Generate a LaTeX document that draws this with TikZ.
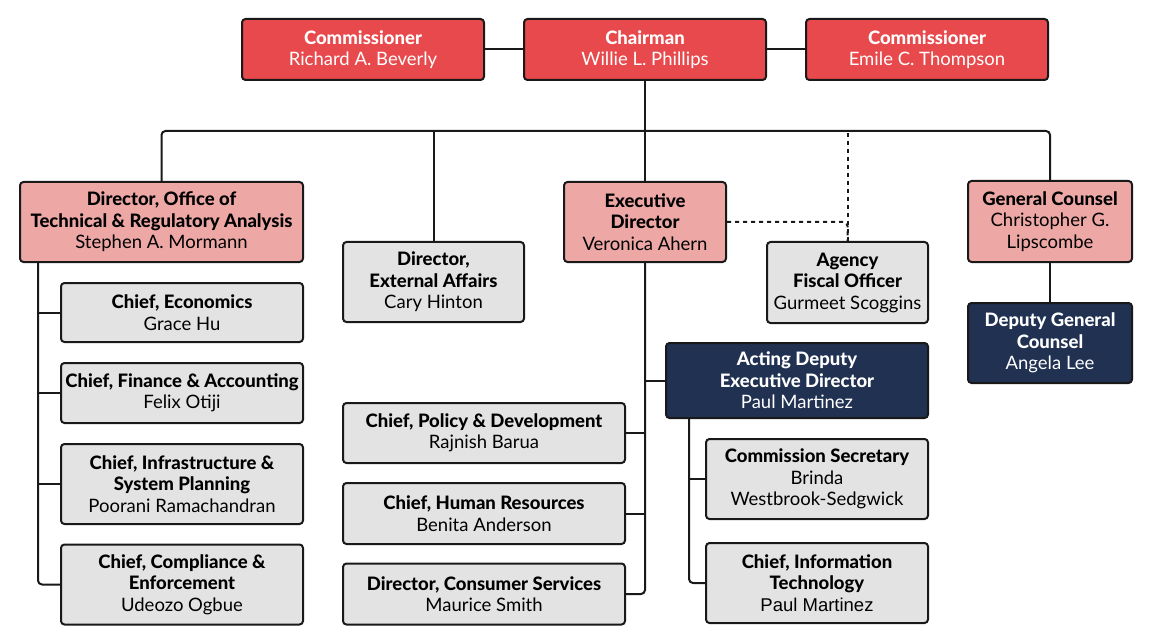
\documentclass[tikz,border=0pt]{standalone}
\usepackage{fontspec}
\setmainfont{Lato}[BoldFont={Lato Heavy}]
\newfontfamily\arialfont{Liberation Sans}
\usetikzlibrary{positioning}

\begin{document}
\begin{tikzpicture}[x=1pt, y=-1pt,
        box/.style={rectangle, draw=black!90, line width=2pt, rounded corners=3.5pt, align=center, inner sep=2pt, font=\fontsize{18.5}{21.5}\selectfont},
        board/.style={box, fill=boardred, text=white, minimum width=242pt, minimum height=61pt},
        head/.style={box, fill=headpink, minimum height=80pt},
        staff/.style={box, fill=staffgray},
        deputy/.style={box, fill=deputynavy, text=white},
        link/.style={line width=2pt, draw=black!90},
        dotlink/.style={link, dash pattern=on 4pt off 4pt}]
        \definecolor{boardred}{RGB}{232,73,76}
        \definecolor{headpink}{RGB}{237,168,166}
        \definecolor{staffgray}{RGB}{227,227,227}
        \definecolor{deputynavy}{RGB}{33,49,82}
        \useasboundingbox (0,0) rectangle (1150,644);

        % commissioners
        \node (com1) at (363, 49.5) [board] {\textbf{Commissioner}\\Richard A. Beverly};
        \node (chair) at (645, 49.5) [board] {\textbf{Chairman}\\Willie L. Phillips};
        \node (com2) at (927, 49.5) [board] {\textbf{Commissioner}\\Emile C. Thompson};
        \coordinate (bus) at (645, 131);

        % second row
        \node (dirOff) at (161.5, 222) [head, minimum width=283pt] {\textbf{Director, Office of}\\\textbf{Technical \& Regulatory Analysis}\\Stephen A. Mormann};
        \node (extAff) at (433.5, 282) [staff, minimum width=181pt, minimum height=80pt] {\textbf{Director,}\\\textbf{External Affairs}\\Cary Hinton};
        \node (execDir) at (645, 222) [head, minimum width=162pt] {\textbf{Executive}\\\textbf{Director}\\Veronica Ahern};
        \node (fiscal) at (847.5, 282.5) [staff, minimum width=161pt, minimum height=81pt] {\textbf{Agency}\\\textbf{Fiscal Officer}\\Gurmeet Scoggins};
        \node (gc) at (1050, 221.5) [head, minimum width=164pt, minimum height=81pt] {\textbf{General Counsel}\\Christopher G.\\Lipscombe};
        \node (depGC) at (1050, 343) [deputy, minimum width=164pt, minimum height=80pt] {\textbf{Deputy General}\\\textbf{Counsel}\\Angela Lee};

        % office of technical & regulatory analysis
        \node (econ) at (182, 312.5) [staff, minimum width=242pt, minimum height=59pt] {\textbf{Chief, Economics}\\Grace Hu};
        \node (fin) at (182, 393) [staff, minimum width=242pt, minimum height=60pt] {\textbf{Chief, Finance \& Accounting}\\Felix Otiji};
        \node (infra) at (182, 484) [staff, minimum width=242pt, minimum height=80pt] {\textbf{Chief, Infrastructure \&}\\\textbf{System Planning}\\Poorani Ramachandran};
        \node (compl) at (182, 584.5) [staff, minimum width=242pt, minimum height=80pt] {\textbf{Chief, Compliance \&}\\\textbf{Enforcement}\\Udeozo Ogbue};
        \coordinate (offTop) at (38, 262);

        % executive director
        \node (actDep) at (797, 380.5) [deputy, minimum width=262pt, minimum height=75pt] {\textbf{Acting Deputy}\\\textbf{Executive Director}\\Paul Martinez};
        \node (policy) at (484, 433) [staff, minimum width=282pt, minimum height=60pt] {\textbf{Chief, Policy \& Development}\\Rajnish Barua};
        \node (hr) at (484, 513.5) [staff, minimum width=282pt, minimum height=61pt] {\textbf{Chief, Human Resources}\\Benita Anderson};
        \node (cons) at (484, 594) [staff, minimum width=282pt, minimum height=61pt] {\textbf{Director, Consumer Services}\\Maurice Smith};
        \node (secy) at (817, 479) [staff, minimum width=222pt, minimum height=80pt] {\textbf{Commission Secretary}\\Brinda\\Westbrook-Sedgwick};
        \node (cio) at (817, 583) [staff, minimum width=222pt, minimum height=80pt] {\textbf{Chief, Information}\\\textbf{Technology}\\{\arialfont Paul Martinez}};
        \coordinate (adTop) at (689, 418);

        % top links
        \draw[link] (com1) -- (chair);
        \draw[link] (chair) -- (com2);
        \draw[link] (chair) -- (execDir);
        \draw[link, rounded corners=4pt] (dirOff.north) -- (dirOff.north |- bus) -- (gc.north |- bus) -- (gc.north);
        \draw[link] (extAff.north) -- (extAff.north |- bus);
        \draw[dotlink] (fiscal.north) -- (fiscal.north |- bus);
        \draw[dotlink, rounded corners=4pt] (execDir.east) -| (fiscal.north);
        \draw[link] (gc) -- (depGC);

        % left branch
        \draw[link, rounded corners=4pt] (offTop) |- (compl.west);
        \foreach \n in {econ, fin, infra}
            \draw[link] (\n.west) -- (\n.west -| offTop);

        % executive director branch
        \draw[link, rounded corners=4pt] (execDir.south) |- (cons.east);
        \foreach \n in {policy, hr}
            \draw[link] (\n.east) -- (\n.east -| execDir.south);
        \draw[link] (actDep.west) -- (actDep.west -| execDir.south);
        \draw[link, rounded corners=4pt] (adTop) |- (cio.west);
        \draw[link] (secy.west) -- (secy.west -| adTop);
\end{tikzpicture}
\end{document}
